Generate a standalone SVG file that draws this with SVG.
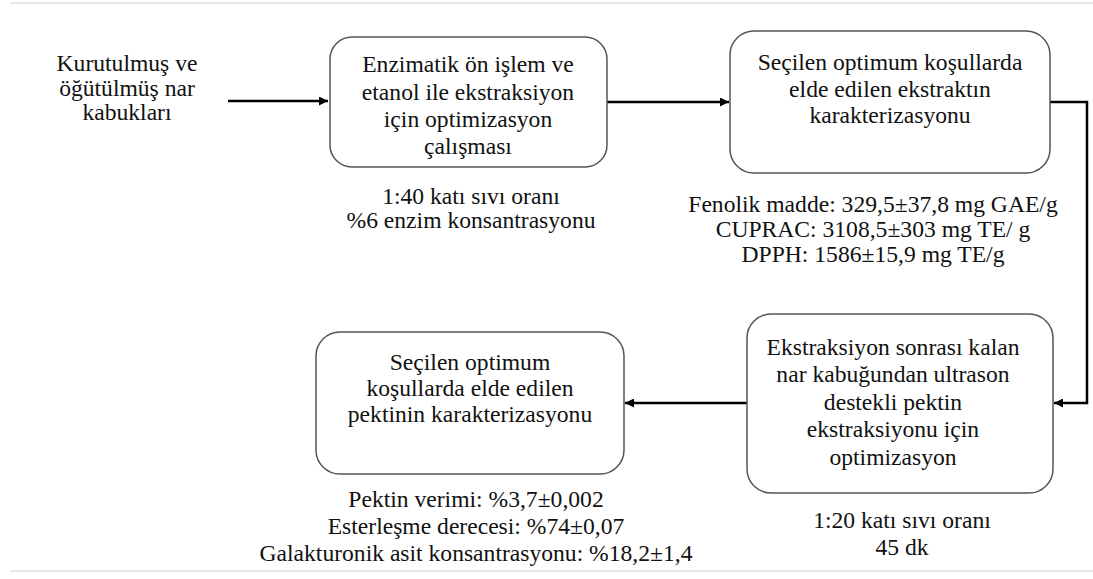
<svg xmlns="http://www.w3.org/2000/svg" width="1093" height="579" viewBox="0 0 1093 579">
<defs>
<style>
.t{font-family:'Liberation Serif','Times New Roman',serif;font-size:23.6px;fill:#111;text-anchor:middle}
.box{fill:#fff;stroke:#555;stroke-width:1.5}
.c{fill:none;stroke:#000;stroke-width:2.5}
.g{stroke:#e6e6e6;stroke-width:2}
</style>
<marker id="ah" viewBox="0 0 10 10" refX="10" refY="5" markerWidth="4.4" markerHeight="3.6" markerUnits="strokeWidth" orient="auto">
<path d="M0,0 L10,5 L0,10 z" fill="#000"/>
</marker>
</defs>
<rect width="1093" height="579" fill="#fff"/>
<line class="g" x1="10" y1="3" x2="1093" y2="3"/>
<line class="g" x1="10" y1="571" x2="1093" y2="571"/>
<g id="connectors">
<line class="c" x1="228" y1="101" x2="328" y2="101" marker-end="url(#ah)"/>
<line class="c" x1="607" y1="102" x2="729" y2="102" marker-end="url(#ah)"/>
<polyline class="c" points="1050,102 1087,102 1087,403 1054,403" marker-end="url(#ah)"/>
<line class="c" x1="747" y1="403" x2="625" y2="403" marker-end="url(#ah)"/>
</g>
<g id="start">
<text class="t" x="127" y="71">Kurutulmuş ve</text>
<text class="t" x="127" y="96">öğütülmüş nar</text>
<text class="t" x="127" y="120">kabukları</text>
</g>
<g id="box1">
<rect class="box" x="330" y="37" width="277" height="130" rx="22"/>
<text class="t" x="468" y="72">Enzimatik ön işlem ve</text>
<text class="t" x="468" y="100">etanol ile ekstraksiyon</text>
<text class="t" x="468" y="127">için optimizasyon</text>
<text class="t" x="468" y="154">çalışması</text>
</g>
<g id="note1">
<text class="t" x="471" y="204">1:40 katı sıvı oranı</text>
<text class="t" x="471" y="228">%6 enzim konsantrasyonu</text>
</g>
<g id="box2">
<rect class="box" x="730" y="31" width="320" height="142" rx="24"/>
<text class="t" x="890" y="70">Seçilen optimum koşullarda</text>
<text class="t" x="890" y="97">elde edilen ekstraktın</text>
<text class="t" x="890" y="123">karakterizasyonu</text>
</g>
<g id="note2">
<text class="t" x="873" y="212">Fenolik madde: 329,5±37,8 mg GAE/g</text>
<text class="t" x="873" y="237">CUPRAC: 3108,5±303 mg TE/ g</text>
<text class="t" x="873" y="262">DPPH: 1586±15,9 mg TE/g</text>
</g>
<g id="box3">
<rect class="box" x="747" y="314" width="306" height="179" rx="24"/>
<text class="t" x="893" y="355">Ekstraksiyon sonrası kalan</text>
<text class="t" x="893" y="382">nar kabuğundan ultrason</text>
<text class="t" x="893" y="410">destekli pektin</text>
<text class="t" x="893" y="437">ekstraksiyonu için</text>
<text class="t" x="893" y="465">optimizasyon</text>
</g>
<g id="note3">
<text class="t" x="902" y="528">1:20 katı sıvı oranı</text>
<text class="t" x="902" y="555">45 dk</text>
</g>
<g id="box4">
<rect class="box" x="316" y="332" width="308" height="142" rx="24"/>
<text class="t" x="470" y="370">Seçilen optimum</text>
<text class="t" x="470" y="396">koşullarda elde edilen</text>
<text class="t" x="470" y="422">pektinin karakterizasyonu</text>
</g>
<g id="note4">
<text class="t" x="476" y="507">Pektin verimi: %3,7±0,002</text>
<text class="t" x="476" y="534">Esterleşme derecesi: %74±0,07</text>
<text class="t" x="476" y="561">Galakturonik asit konsantrasyonu: %18,2±1,4</text>
</g>
</svg>
